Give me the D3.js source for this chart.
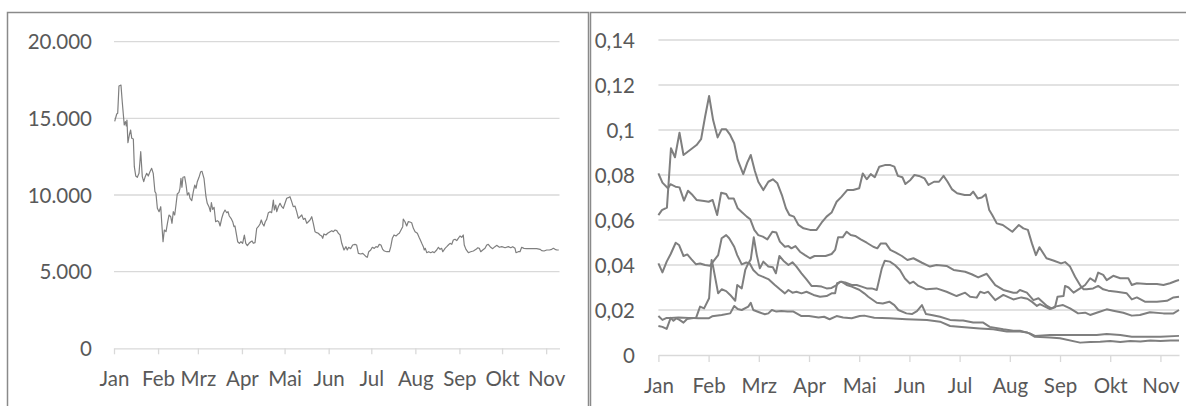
<!DOCTYPE html>
<html><head><meta charset="utf-8">
<script src="https://cdn.jsdelivr.net/npm/d3@7"></script>
<style>
body{margin:0;background:#fff;}
svg{display:block;font-family:Lato,"Open Sans",sans-serif;}
</style></head><body>
<svg id="c" width="1186" height="406"></svg>
<script>
// ---- tick labels ----
const monthLabels = ["Jan","Feb","Mrz","Apr","Mai","Jun","Jul","Aug","Sep","Okt","Nov"];
const leftTicks = [0,5000,10000,15000,20000];
const leftTickLabels = ["0","5.000","10.000","15.000","20.000"];
const rightTicks = [0,0.02,0.04,0.06,0.08,0.1,0.12,0.14];
const rightTickLabels = ["0","0,02","0,04","0,06","0,08","0,1","0,12","0,14"];

// ---- left chart: [day offset from 1 Jan, value] ----
const leftSeries = [[0.5,14800],[1.9,15285],[2.6,15330],[3.5,17110],[4.9,17175],[5.8,16086],[7.2,14566],[8.0,14782],[8.7,14500],[9.1,14892],[9.8,13412],[10.8,13914],[11.7,14240],[12.5,13699],[13.6,13653],[14.3,11846],[15.3,11239],[16.4,11154],[17.6,11415],[18.8,12824],[19.9,11194],[20.9,10868],[21.8,11154],[23.0,11415],[24.1,11239],[25.3,11520],[26.5,11741],[27.6,11415],[28.8,10216],[29.5,10111],[30.5,9132],[31.7,8911],[32.9,9237],[33.6,8154],[34.5,6954],[35.4,7717],[36.6,7609],[37.8,8258],[38.7,8695],[39.9,8584],[40.8,8154],[41.7,8911],[42.7,8695],[43.6,9347],[44.5,10065],[45.7,10176],[46.4,10437],[47.1,11089],[47.8,10502],[48.5,11154],[49.7,11194],[50.7,10652],[51.6,10000],[52.6,10150],[53.5,9785],[54.7,9628],[55.8,10216],[56.8,10652],[57.7,10437],[58.6,10868],[59.8,11154],[61.0,11520],[61.9,11546],[63.3,11089],[64.7,9889],[65.6,9459],[66.8,9237],[67.8,8911],[68.5,9498],[69.4,9067],[70.4,9198],[71.5,8258],[72.7,8323],[73.7,8258],[74.6,7978],[75.8,8480],[76.9,8806],[78.1,9021],[79.3,8845],[80.2,8911],[81.1,8630],[82.3,8480],[83.5,8258],[84.4,7932],[85.1,7978],[86.0,7502],[87.0,6954],[88.2,6849],[89.3,6954],[90.5,6849],[91.7,7391],[92.7,6849],[93.8,6693],[95.0,6849],[96.2,6954],[97.1,7000],[98.0,6849],[99.2,6890],[100.4,7828],[101.5,7932],[102.7,8108],[103.6,8370],[104.6,8108],[105.5,7978],[106.4,8258],[107.4,8410],[108.6,8845],[109.8,8911],[110.9,8845],[112.1,9674],[112.8,9021],[113.8,9347],[114.5,8911],[115.6,9237],[116.8,9459],[118.0,9237],[119.1,9132],[120.3,9459],[121.5,9785],[122.6,9826],[123.8,9889],[125.0,9567],[126.1,9237],[127.3,9280],[128.5,8911],[129.7,8480],[130.9,8584],[132.1,8695],[133.2,8410],[134.4,8480],[135.6,8154],[136.7,8258],[137.9,8370],[139.1,8584],[140.2,8154],[141.4,7609],[142.6,7543],[143.7,7502],[144.9,7391],[146.1,7326],[146.8,7174],[147.7,7457],[149.1,7391],[150.3,7502],[152.0,7609],[153.2,7674],[154.3,7609],[155.5,7717],[156.7,7674],[157.8,7502],[159.0,7400],[160.2,6849],[161.8,6412],[163.2,6630],[164.1,6412],[165.1,6590],[166.5,6500],[167.9,6738],[169.5,6780],[170.7,6738],[171.9,6195],[173.6,6150],[175.0,6195],[176.1,6090],[177.3,5978],[178.2,5935],[179.2,6300],[180.6,6412],[181.7,6590],[183.1,6520],[184.3,6630],[185.5,6590],[186.6,6780],[187.8,6738],[189.0,6455],[190.2,6345],[191.9,6300],[193.7,6300],[194.7,6630],[195.8,7174],[197.0,7391],[198.4,7326],[199.6,7435],[200.7,7500],[201.9,7717],[203.1,7935],[203.5,8435],[204.7,8258],[205.9,7978],[207.0,8258],[208.2,8237],[209.4,8193],[210.6,7826],[211.8,7609],[213.4,7500],[214.6,7240],[215.5,7065],[216.5,6849],[217.6,6630],[218.3,6412],[219.0,6520],[220.0,6237],[221.4,6300],[222.8,6237],[224.2,6300],[225.3,6237],[227.0,6412],[228.2,6590],[229.4,6455],[230.5,6520],[231.3,6300],[232.9,6520],[234.1,6630],[235.2,6738],[236.4,6849],[237.6,6780],[238.7,7065],[239.9,7110],[241.1,7022],[242.2,7174],[243.4,7326],[244.6,7240],[245.7,7391],[246.4,6738],[247.6,6455],[249.3,6237],[250.9,6300],[252.8,6345],[254.7,6455],[255.9,6560],[257.0,6520],[258.0,6300],[259.4,6412],[261.0,6520],[262.2,6738],[263.3,6780],[265.0,6590],[266.4,6500],[268.0,6630],[269.2,6715],[271.1,6590],[272.8,6630],[275.1,6560],[277.4,6630],[279.1,6560],[280.5,6630],[282.1,6520],[282.8,6237],[284.4,6300],[285.6,6300],[286.8,6590],[288.4,6520],[290.3,6500],[292.7,6500],[295.0,6500],[297.4,6500],[299.7,6455],[300.9,6370],[302.5,6345],[304.4,6412],[306.3,6412],[307.9,6455],[309.1,6520],[310.3,6455],[311.5,6412],[312.9,6412]];

// ---- right chart: [month position (0 = Jan), value] ----
const rightA = [[0,0.0622],[0.07,0.0644],[0.17,0.0655],[0.25,0.0919],[0.33,0.0879],[0.42,0.0988],[0.5,0.0889],[0.63,0.0911],[0.76,0.0933],[0.85,0.0959],[0.93,0.1059],[1.01,0.1151],[1.09,0.1044],[1.18,0.0967],[1.26,0.1003],[1.35,0.1003],[1.43,0.0978],[1.51,0.0941],[1.58,0.0867],[1.69,0.0804],[1.77,0.0855],[1.84,0.0889],[1.92,0.0819],[1.99,0.077],[2.09,0.0733],[2.19,0.077],[2.28,0.0781],[2.37,0.0763],[2.46,0.0711],[2.54,0.0652],[2.61,0.0622],[2.7,0.0615],[2.79,0.0578],[2.89,0.0563],[3.02,0.0556],[3.15,0.0556],[3.25,0.0588],[3.35,0.0615],[3.45,0.0633],[3.55,0.0681],[3.65,0.0704],[3.76,0.0733],[3.88,0.0733],[4.0,0.0741],[4.07,0.0807],[4.15,0.0781],[4.23,0.0804],[4.31,0.079],[4.4,0.0837],[4.51,0.0844],[4.62,0.0844],[4.7,0.0837],[4.77,0.0796],[4.86,0.079],[4.92,0.076],[5.02,0.0778],[5.1,0.08],[5.19,0.0796],[5.3,0.0785],[5.38,0.0756],[5.49,0.077],[5.59,0.077],[5.68,0.0796],[5.76,0.077],[5.85,0.0736],[5.95,0.0719],[6.1,0.0711],[6.21,0.0711],[6.27,0.0726],[6.36,0.0696],[6.44,0.07],[6.52,0.0714],[6.59,0.0644],[6.65,0.0622],[6.74,0.0585],[6.86,0.0578],[7.05,0.0548],[7.18,0.0578],[7.27,0.0563],[7.36,0.0556],[7.44,0.0496],[7.52,0.0444],[7.59,0.0479],[7.73,0.043],[7.88,0.0419],[8.02,0.0407],[8.1,0.0413],[8.2,0.0393],[8.3,0.0348],[8.41,0.0307],[8.47,0.0292],[8.53,0.0292],[8.66,0.0296],[8.76,0.0307],[8.86,0.0292],[8.96,0.0286],[9.13,0.0281],[9.33,0.0274],[9.43,0.0247],[9.53,0.0256],[9.69,0.0237],[9.93,0.0237],[10.13,0.0241],[10.26,0.0256],[10.37,0.0259]];
const rightB = [[0,0.0807],[0.08,0.0766],[0.19,0.0741],[0.24,0.0759],[0.34,0.0748],[0.42,0.0745],[0.51,0.0686],[0.59,0.073],[0.68,0.0711],[0.76,0.0689],[0.91,0.0684],[1.0,0.0681],[1.08,0.0689],[1.17,0.0622],[1.25,0.0721],[1.35,0.0716],[1.4,0.0696],[1.5,0.0696],[1.58,0.0652],[1.67,0.0633],[1.76,0.0615],[1.83,0.0603],[1.91,0.0556],[1.99,0.0533],[2.08,0.0526],[2.17,0.0514],[2.27,0.0548],[2.35,0.0544],[2.42,0.0504],[2.52,0.0481],[2.59,0.0484],[2.65,0.0474],[2.73,0.0484],[2.82,0.0459],[2.92,0.0444],[3.02,0.043],[3.11,0.044],[3.22,0.044],[3.33,0.044],[3.45,0.0449],[3.52,0.0467],[3.58,0.0523],[3.67,0.0523],[3.75,0.0548],[3.83,0.0533],[3.92,0.0529],[4.03,0.0514],[4.15,0.0499],[4.28,0.0481],[4.36,0.0474],[4.43,0.0496],[4.53,0.0496],[4.62,0.0467],[4.73,0.0455],[4.85,0.044],[4.96,0.0422],[5.08,0.043],[5.25,0.041],[5.41,0.0393],[5.54,0.04],[5.74,0.0396],[5.88,0.0378],[6.11,0.037],[6.24,0.0359],[6.37,0.0345],[6.54,0.0361],[6.71,0.0311],[6.87,0.0289],[7.07,0.0277],[7.14,0.0277],[7.2,0.0289],[7.34,0.0277],[7.47,0.0244],[7.57,0.0252],[7.74,0.0218],[7.83,0.0207],[7.9,0.0212],[7.95,0.0259],[8.07,0.0262],[8.1,0.0307],[8.17,0.03],[8.27,0.0277],[8.4,0.0296],[8.5,0.0311],[8.6,0.0341],[8.7,0.0326],[8.76,0.0366],[8.86,0.0356],[8.93,0.0333],[9.06,0.0352],[9.2,0.0341],[9.36,0.0341],[9.43,0.0311],[9.53,0.0319],[9.73,0.0316],[9.93,0.0316],[10.06,0.0311],[10.19,0.0319],[10.32,0.033],[10.37,0.0333]];
const rightC = [[0,0.0407],[0.08,0.0367],[0.165,0.0415],[0.245,0.0449],[0.345,0.0499],[0.41,0.0489],[0.5,0.044],[0.575,0.0447],[0.66,0.0425],[0.75,0.0403],[0.83,0.0407],[0.93,0.04],[1.03,0.0397],[1.09,0.0415],[1.19,0.0444],[1.26,0.0519],[1.35,0.0533],[1.41,0.0519],[1.51,0.0481],[1.57,0.0444],[1.66,0.0403],[1.75,0.0411],[1.82,0.0407],[1.89,0.0378],[1.99,0.0356],[2.12,0.0344],[2.2,0.0336],[2.32,0.0311],[2.42,0.0292],[2.52,0.0274],[2.59,0.0289],[2.67,0.0277],[2.75,0.0281],[2.85,0.0274],[2.95,0.0281],[3.09,0.0267],[3.22,0.0259],[3.35,0.0262],[3.45,0.0274],[3.52,0.0274],[3.56,0.0319],[3.65,0.0326],[3.75,0.0311],[3.85,0.0304],[4.0,0.029],[4.1,0.0274],[4.18,0.0259],[4.35,0.0232],[4.47,0.0229],[4.6,0.0237],[4.7,0.0222],[4.78,0.02],[4.94,0.0185],[5.05,0.0182],[5.15,0.0195],[5.25,0.0222],[5.33,0.0182],[5.44,0.0178],[5.61,0.017],[5.81,0.0156],[6.0,0.0153],[6.07,0.0153],[6.27,0.0144],[6.47,0.0144],[6.6,0.0125],[6.87,0.0114],[7.07,0.0108],[7.2,0.0108],[7.4,0.0096],[7.5,0.0085],[7.8,0.0089],[8.14,0.0089],[8.4,0.0089],[8.73,0.0089],[8.93,0.0093],[9.2,0.0089],[9.43,0.0081],[9.7,0.0081],[10.0,0.0081],[10.37,0.0085]];
const rightD = [[0,0.0129],[0.08,0.0125],[0.165,0.0116],[0.245,0.0165],[0.3,0.0152],[0.36,0.0163],[0.42,0.0156],[0.5,0.0144],[0.57,0.016],[0.66,0.0163],[0.75,0.0165],[0.83,0.0215],[0.91,0.0207],[1.01,0.0252],[1.06,0.0422],[1.09,0.0393],[1.19,0.0274],[1.26,0.0292],[1.35,0.0284],[1.43,0.0267],[1.53,0.0241],[1.57,0.0311],[1.66,0.0296],[1.73,0.0378],[1.79,0.0407],[1.84,0.0425],[1.9,0.0523],[1.96,0.0444],[2.02,0.0385],[2.09,0.0415],[2.19,0.0393],[2.28,0.039],[2.34,0.0363],[2.41,0.044],[2.49,0.0419],[2.59,0.04],[2.67,0.0412],[2.75,0.0393],[2.85,0.0363],[2.95,0.0336],[3.05,0.0307],[3.15,0.0307],[3.25,0.0304],[3.35,0.0296],[3.45,0.0298],[3.55,0.0311],[3.62,0.0326],[3.72,0.0322],[3.85,0.0311],[3.95,0.0311],[4.05,0.0304],[4.15,0.0296],[4.25,0.0296],[4.35,0.0289],[4.45,0.0385],[4.51,0.0419],[4.61,0.0415],[4.71,0.04],[4.81,0.0378],[4.91,0.034],[5.01,0.0318],[5.08,0.0326],[5.18,0.0307],[5.34,0.0292],[5.54,0.0296],[5.74,0.0281],[5.94,0.0262],[6.11,0.0277],[6.21,0.0259],[6.34,0.0255],[6.41,0.0281],[6.49,0.0275],[6.57,0.0281],[6.71,0.0244],[6.87,0.0267],[7.07,0.0247],[7.23,0.0256],[7.35,0.025],[7.45,0.0235],[7.54,0.0218],[7.6,0.0226],[7.8,0.0204],[7.9,0.0215],[8.06,0.0222],[8.2,0.0207],[8.36,0.0185],[8.5,0.0188],[8.6,0.0178],[8.73,0.0188],[8.93,0.0203],[9.06,0.0197],[9.26,0.0188],[9.43,0.0175],[9.59,0.0178],[9.79,0.019],[10.06,0.0185],[10.26,0.0185],[10.37,0.02]];
const rightE = [[0,0.0173],[0.08,0.0156],[0.165,0.0165],[0.25,0.0165],[0.4,0.0167],[0.6,0.0165],[0.8,0.0163],[1.0,0.0163],[1.07,0.0172],[1.26,0.0178],[1.43,0.0185],[1.51,0.0218],[1.58,0.0204],[1.66,0.02],[1.79,0.0215],[1.84,0.0232],[1.89,0.02],[2.02,0.0189],[2.12,0.0181],[2.19,0.0185],[2.26,0.02],[2.35,0.0193],[2.45,0.0196],[2.57,0.0193],[2.69,0.0193],[2.85,0.0173],[3.0,0.0173],[3.19,0.0167],[3.3,0.017],[3.41,0.0159],[3.55,0.0173],[3.68,0.0167],[3.85,0.0163],[4.01,0.0173],[4.1,0.0175],[4.3,0.0166],[4.6,0.0163],[4.94,0.0159],[5.35,0.0156],[5.61,0.0148],[5.81,0.0129],[6.1,0.0123],[6.4,0.0118],[6.67,0.0114],[6.94,0.0104],[7.2,0.0104],[7.35,0.01],[7.5,0.0081],[7.8,0.0078],[8.0,0.0074],[8.4,0.0055],[8.6,0.0058],[8.8,0.0059],[9.0,0.0062],[9.2,0.0058],[9.4,0.0062],[9.6,0.006],[9.8,0.0064],[10.0,0.0062],[10.2,0.0064],[10.37,0.0064]];
const rightSeries = [rightA, rightB, rightC, rightD, rightE];

// ---- drawing ----
const svg = d3.select("#c");
const TXT = "#595959", GRID = "#d9d9d9", LINE = "#7f7f7f", FS = 20.5;

// panel frames
svg.append("rect").attr("x",7.5).attr("y",12.5).attr("width",581).attr("height",420)
  .attr("fill","none").attr("stroke","#8a8a8a").attr("stroke-width",1.5);
svg.append("rect").attr("x",590.5).attr("y",12.5).attr("width",620).attr("height",420)
  .attr("fill","none").attr("stroke","#8a8a8a").attr("stroke-width",1.5);

// left chart
const t0 = Date.UTC(2021,0,1), DAY = 864e5;
const xL = d3.scaleUtc().domain([new Date(t0), new Date(t0 + 313.4*DAY)]).range([114, 559.5]);
const yL = d3.scaleLinear().domain([0,20000]).range([348.3, 41.7]);
const gL = svg.append("g");
gL.selectAll("line.grid").data(leftTicks.filter(t=>t>0)).join("line")
  .attr("x1",xL.range()[0]).attr("x2",xL.range()[1])
  .attr("y1",d=>yL(d)).attr("y2",d=>yL(d))
  .attr("stroke",GRID).attr("stroke-width",1.3);
gL.selectAll("text.yl").data(leftTicks).join("text")
  .attr("x",92).attr("y",d=>yL(d)+7.5).attr("text-anchor","end")
  .attr("font-size",FS).attr("fill",TXT).text((d,i)=>leftTickLabels[i]);
const axL = gL.append("g").attr("transform",`translate(0,${yL(0)})`)
  .call(d3.axisBottom(xL).ticks(d3.utcMonth.every(1)).tickSizeInner(6).tickSizeOuter(0)
    .tickFormat(d=>monthLabels[d.getUTCMonth()]));
styleAxis(axL);
gL.append("path").datum(leftSeries)
  .attr("fill","none").attr("stroke",LINE).attr("stroke-width",1.2).attr("stroke-linejoin","round")
  .attr("d", d3.line().x(d=>xL(new Date(t0 + d[0]*DAY))).y(d=>yL(d[1])));

// right chart
const xR = d3.scaleLinear().domain([0,10.37]).range([658.4,1179]);
const yR = d3.scaleLinear().domain([0,0.14]).range([355,40]);
const gR = svg.append("g");
gR.selectAll("line.grid").data(rightTicks.filter(t=>t>0)).join("line")
  .attr("x1",xR.range()[0]).attr("x2",xR.range()[1])
  .attr("y1",d=>yR(d)).attr("y2",d=>yR(d))
  .attr("stroke",GRID).attr("stroke-width",1.3);
gR.selectAll("text.yl").data(rightTicks).join("text")
  .attr("x",635).attr("y",d=>yR(d)+7.5).attr("text-anchor","end")
  .attr("font-size",FS).attr("fill",TXT).text((d,i)=>rightTickLabels[i]);
const axR = gR.append("g").attr("transform",`translate(0,${yR(0)})`)
  .call(d3.axisBottom(xR).tickValues(d3.range(monthLabels.length)).tickSizeInner(7).tickSizeOuter(0)
    .tickFormat(i=>monthLabels[i]));
styleAxis(axR);
const lineR = d3.line().x(d=>xR(d[0])).y(d=>yR(d[1]));
gR.selectAll("path.s").data(rightSeries).join("path")
  .attr("fill","none").attr("stroke",LINE).attr("stroke-width",2).attr("stroke-linejoin","round")
  .attr("d", lineR);

function styleAxis(g){
  g.select(".domain").attr("stroke",GRID).attr("stroke-width",1.3);
  g.selectAll(".tick line").attr("stroke",GRID).attr("stroke-width",1.3);
  g.selectAll(".tick text").attr("y",38).attr("dy",0)
    .attr("font-size",FS).attr("fill",TXT).attr("font-family","Lato, 'Open Sans', sans-serif");
}
</script>
</body></html>
